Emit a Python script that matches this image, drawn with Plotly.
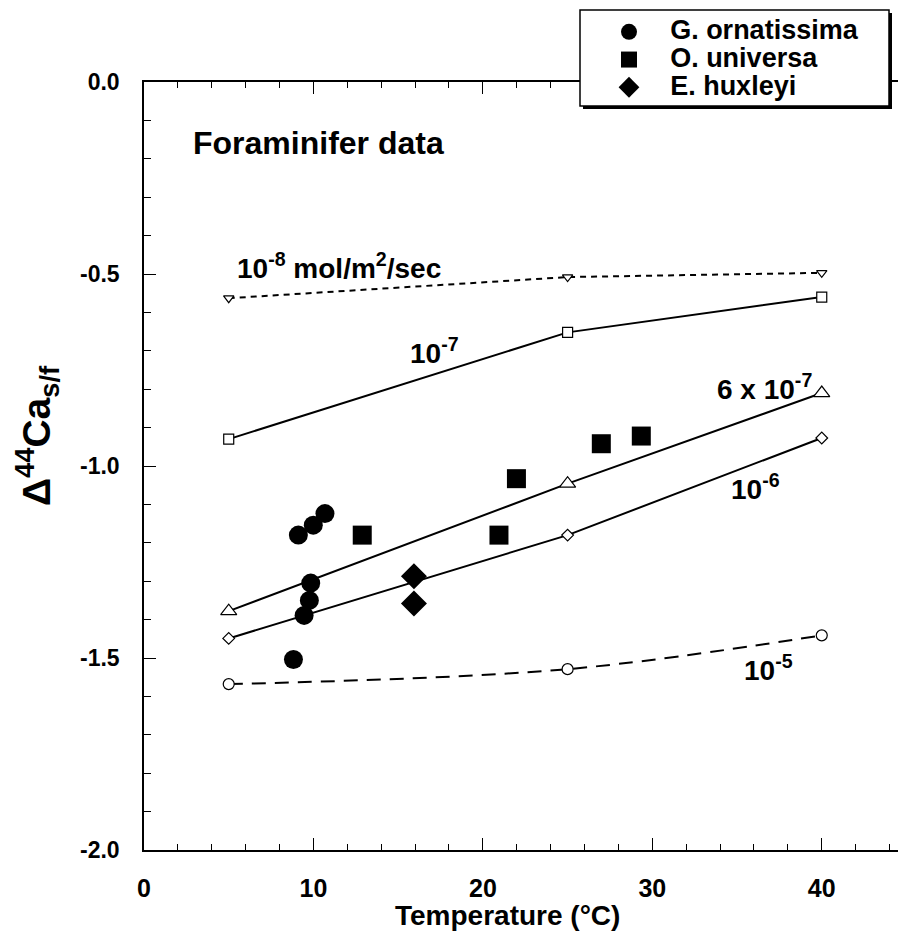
import plotly.graph_objects as go

# model curve temperatures and values
model_t = [5, 25, 40]
rate_1e8 = [-0.563, -0.508, -0.497]
rate_1e7 = [-0.93, -0.652, -0.56]
rate_6e7 = [-1.378, -1.046, -0.81]
rate_1e6 = [-1.449, -1.18, -0.927]
rate_1e5 = [-1.568, -1.529, -1.441]

# observations
gorn_t = [8.82, 9.11, 9.99, 10.68, 9.84, 9.76, 9.45]
gorn_v = [-1.504, -1.18, -1.154, -1.124, -1.305, -1.35, -1.389]
ouni_t = [12.88, 20.95, 21.98, 26.99, 29.35]
ouni_v = [-1.18, -1.18, -1.033, -0.942, -0.922]
ehux_t = [15.93, 15.93]
ehux_v = [-1.287, -1.358]

# tick labels
x_tickvals = [0, 10, 20, 30, 40]
x_ticktext = ["0", "10", "20", "30", "40"]
y_tickvals = [0.0, -0.5, -1.0, -1.5, -2.0]
y_ticktext = ["0.0", "-0.5", "-1.0", "-1.5", "-2.0"]

FONT = "Liberation Sans, Arial, Helvetica, sans-serif"

fig = go.Figure()

def model(y, sym, size, dash, shape="linear"):
    fig.add_trace(go.Scatter(
        x=model_t, y=y, mode="lines+markers", showlegend=False,
        line=dict(color="black", width=2, dash=dash, shape=shape),
        marker=dict(symbol=sym, size=size, color="white",
                    line=dict(color="black", width=1.2)),
        cliponaxis=False))

model(rate_1e8, "triangle-down", 9, "6px,5px")
model(rate_1e7, "square", 10, "solid")
model(rate_6e7, "triangle-up", 14, "solid")
model(rate_1e6, "diamond", 9, "solid")
model(rate_1e5, "circle", 11, "14px,9px", "spline")

NB = "\u00a0\u00a0\u00a0\u00a0"
def lname(s):
    return NB + '<span style="font-size:27px"><b>' + s + '</b></span>'

fig.add_trace(go.Scatter(x=gorn_t, y=gorn_v, mode="markers", name=lname("G. ornatissima"),
                         marker=dict(symbol="circle", size=19, color="black")))
fig.add_trace(go.Scatter(x=ouni_t, y=ouni_v, mode="markers", name=lname("O. universa"),
                         marker=dict(symbol="square", size=19, color="black")))
fig.add_trace(go.Scatter(x=ehux_t, y=ehux_v, mode="markers", name=lname("E. huxleyi"),
                         marker=dict(symbol="diamond", size=20, color="black")))

ann_font = dict(family=FONT, size=28, color="black", weight="bold")
annots = [
    dict(x=2.8, y=-0.16, text="Foraminifer data", font=dict(family=FONT, size=32, color="black", weight="bold")),
    dict(x=5.35, y=-0.48, text="10<sup>-8</sup> mol/m<sup>2</sup>/sec", font=ann_font),
    dict(x=15.6, y=-0.70, text="10<sup>-7</sup>", font=ann_font),
    dict(x=33.7, y=-0.795, text="6 x 10<sup>-7</sup>", font=ann_font),
    dict(x=34.5, y=-1.055, text="10<sup>-6</sup>", font=ann_font),
    dict(x=35.3, y=-1.525, text="10<sup>-5</sup>", font=ann_font),
]
for a in annots:
    fig.add_annotation(xref="x", yref="y", showarrow=False, xanchor="left", yanchor="middle", **a)

# axis titles
fig.add_annotation(xref="paper", yref="paper", x=(507 - 144) / 754, y=-(915 - 850) / 768,
                   text="Temperature (°C)", showarrow=False, xanchor="center", yanchor="middle",
                   font=dict(family=FONT, size=28, color="black", weight="bold"))
fig.add_annotation(xref="paper", yref="paper", x=-(144 - 37) / 754, y=(850 - 436) / 768,
                   text="Δ<sup>44</sup>Ca<sub>s/f</sub>", showarrow=False, textangle=-90,
                   xanchor="center", yanchor="middle",
                   font=dict(family=FONT, size=39, color="black", weight="bold"))

# legend box with shadow
fig.add_shape(type="rect", xref="paper", yref="paper", layer="above",
              x0=(583 - 144) / 754, x1=(892 - 144) / 754,
              y0=1 + (82 - 109) / 768, y1=1 + (82 - 13) / 768,
              fillcolor="black", line=dict(width=0))
fig.add_shape(type="rect", xref="paper", yref="paper", layer="above",
              x0=(580 - 144) / 754, x1=(889 - 144) / 754,
              y0=1 + (82 - 106) / 768, y1=1 + (82 - 10) / 768,
              fillcolor="white", line=dict(color="black", width=1.5))

fig.update_layout(
    width=898, height=932,
    margin=dict(l=144, r=0, t=82, b=82, autoexpand=False),
    paper_bgcolor="white", plot_bgcolor="white",
    font=dict(family=FONT, color="black"),
    legend=dict(x=(609 - 144) / 754, y=1 + (82 - 13) / 768, xanchor="left", yanchor="top",
                bgcolor="rgba(0,0,0,0)", borderwidth=0,
                font=dict(family=FONT, size=19, color="black"),
                tracegroupgap=0, itemsizing="trace"),
    xaxis=dict(range=[0, 44.5], tickvals=x_tickvals, ticktext=x_ticktext,
               showgrid=False, zeroline=False, automargin=False,
               showline=True, linecolor="black", linewidth=1.5, mirror="ticks",
               ticks="inside", ticklen=12, tickwidth=1.3, tickcolor="black",
               ticklabelstandoff=15,
               tickfont=dict(family=FONT, size=25, color="black", weight="bold"),
               minor=dict(tickvals=list(range(0, 45, 2)), ticks="inside", ticklen=6, tickwidth=1.2, tickcolor="black")),
    yaxis=dict(range=[-2, 0], tickvals=y_tickvals, ticktext=y_ticktext,
               showgrid=False, zeroline=False, automargin=False,
               showline=True, linecolor="black", linewidth=1.5, mirror=False,
               ticks="inside", ticklen=12, tickwidth=1.3, tickcolor="black",
               ticklabelstandoff=18,
               tickfont=dict(family=FONT, size=23, color="black", weight="bold"),
               minor=dict(dtick=0.1, tick0=0, ticks="inside", ticklen=7, tickwidth=1.2, tickcolor="black")),
)

fig.write_html("out.html", config={"displayModeBar": False},
               post_script="document.body.style.margin='0';")
